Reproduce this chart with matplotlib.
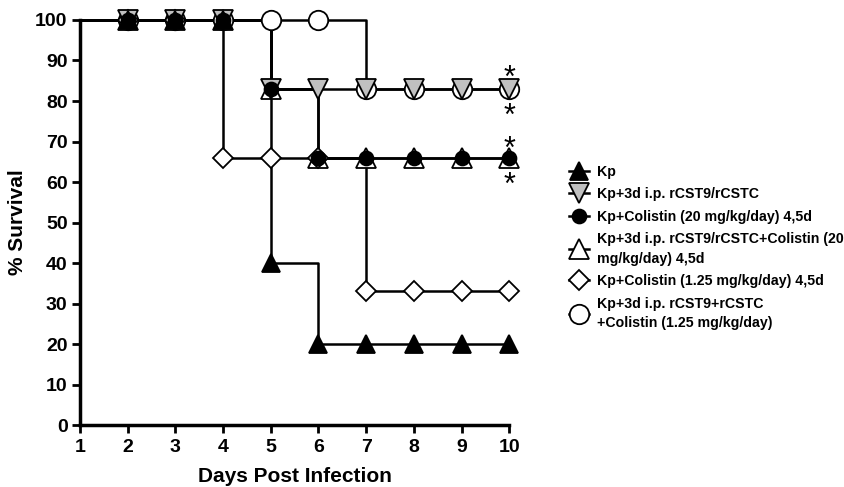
import matplotlib
matplotlib.use("Agg")
import matplotlib.pyplot as plt

plt.rcParams['font.family'] = ['Liberation Sans', 'DejaVu Sans']
plt.rcParams['font.weight'] = 'bold'

# survival data, day 1 .. 10 (markers drawn from day 2)
days = [1, 2, 3, 4, 5, 6, 7, 8, 9, 10]
kp = [100, 100, 100, 100, 40, 20, 20, 20, 20, 20]
kp_cst = [100, 100, 100, 100, 83, 83, 83, 83, 83, 83]
kp_col20 = [100, 100, 100, 100, 83, 66, 66, 66, 66, 66]
kp_cst_col20 = [100, 100, 100, 100, 83, 66, 66, 66, 66, 66]
kp_col125 = [100, 100, 100, 66, 66, 66, 33, 33, 33, 33]
kp_cst_col125 = [100, 100, 100, 100, 100, 100, 83, 83, 83, 83]

labels = ["Kp",
          "Kp+3d i.p. rCST9/rCSTC",
          "Kp+Colistin (20 mg/kg/day) 4,5d",
          "Kp+3d i.p. rCST9/rCSTC+Colistin (20\nmg/kg/day) 4,5d",
          "Kp+Colistin (1.25 mg/kg/day) 4,5d",
          "Kp+3d i.p. rCST9+rCSTC\n+Colistin (1.25 mg/kg/day)"]

# significance marks at day 10
star_y = [85.5, 76, 68, 59]

fig = plt.figure(figsize=(8.45, 4.87), dpi=100)
ax = fig.add_axes([0.0947, 0.127, 0.508, 0.832])

# (values, marker, facecolor, size, zorder, legend index) -- draw order matters
styles = [
    (kp_cst_col125, 'o', 'white', 14, 3, 5),
    (kp_cst_col20, '^', 'white', 14, 4, 3),
    (kp_col125, 'D', 'white', 10, 4, 4),
    (kp_cst, 'v', '#c0c0c0', 14, 5, 1),
    (kp_col20, 'o', 'black', 10, 6, 2),
    (kp, '^', 'black', 13, 7, 0),
]

handles = [None] * 6
for vals, m, fc, ms, z, li in styles:
    ax.step(days, vals, where='post', color='black', lw=1.8, zorder=2, clip_on=False)
    ax.plot(days[1:], vals[1:], linestyle='none', marker=m, ms=ms, mfc=fc,
            mec='black', mew=1.3, zorder=z, clip_on=False)
    h, = ax.plot([], [], color='black', lw=1.8, marker=m, ms=ms, mfc=fc,
                 mec='black', mew=1.3)
    handles[li] = h

for yy in star_y:
    ax.text(days[-1], yy, '*', ha='center', va='center', fontsize=22, fontweight='normal')

ax.set_xlim(1, 10)
ax.set_ylim(0, 100)
ax.set_xticks(range(1, 11))
ax.set_yticks(range(0, 101, 10))
ax.tick_params(labelsize=14, width=2, length=6, pad=3)
ax.tick_params(axis='x', pad=4)
for lab in ax.get_xticklabels() + ax.get_yticklabels():
    lab.set_fontweight('bold')
ax.spines['top'].set_visible(False)
ax.spines['right'].set_visible(False)
ax.spines['left'].set_linewidth(2.5)
ax.spines['bottom'].set_linewidth(2.5)
ax.set_xlabel("Days Post Infection", fontsize=15, fontweight='bold', labelpad=8)
ax.set_ylabel("% Survival", fontsize=15, fontweight='bold', labelpad=6)

fig.legend(handles, labels, loc='upper left', bbox_to_anchor=(0.658, 0.688),
           frameon=False, handlelength=1.4, handletextpad=0.6,
           labelspacing=0.6, prop={'weight': 'bold', 'size': 10.2})
for t in fig.legends[0].get_texts():
    t.set_linespacing(1.5)

fig.savefig("out.png", dpi=100)
